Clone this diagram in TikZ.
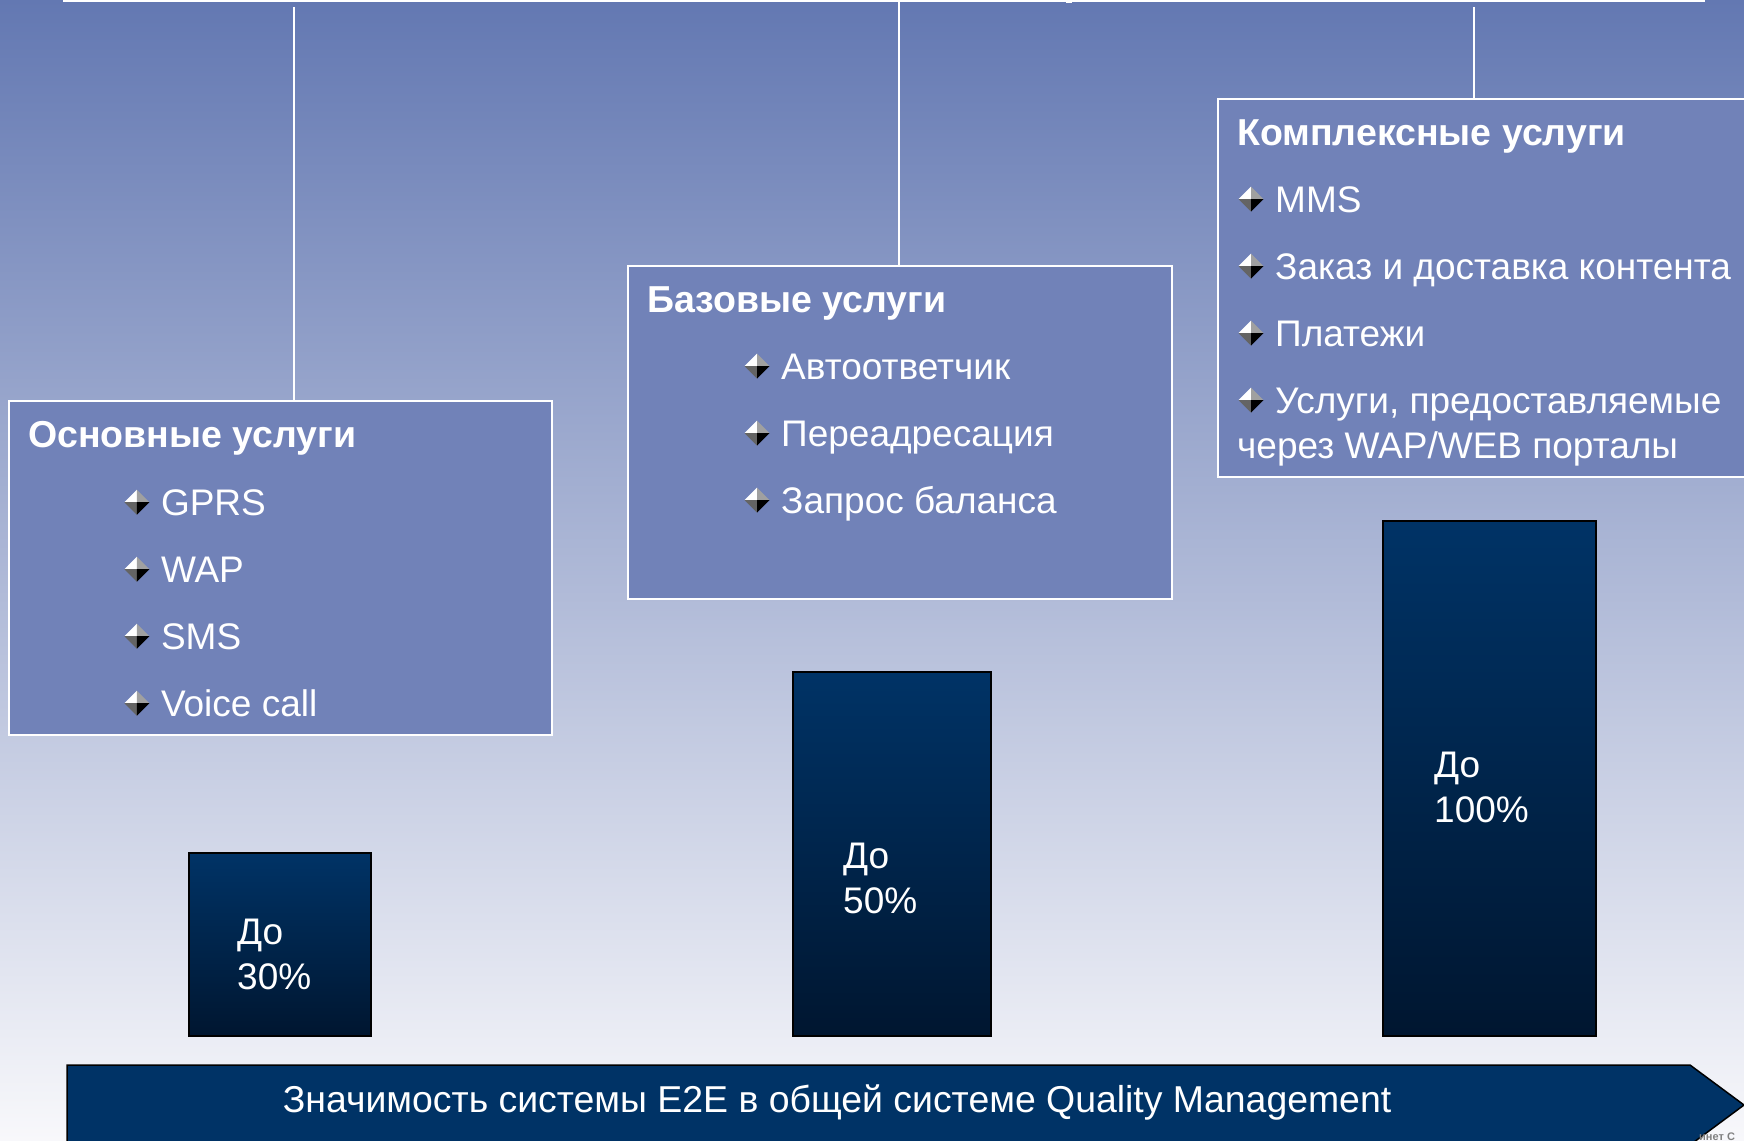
\documentclass[tikz,border=0pt]{standalone}
\usepackage{fontspec}
\setmainfont{Liberation Sans}
\usetikzlibrary{matrix, positioning, calc}
\definecolor{bgtop}{RGB}{99,120,178}
\definecolor{bgmid}{RGB}{180,187,213}
\definecolor{bgbot}{RGB}{248,248,251}
\definecolor{boxblue}{RGB}{113,130,184}
\definecolor{bartop}{RGB}{0,51,102}
\definecolor{barbot}{RGB}{0,22,48}
\definecolor{gemlight}{RGB}{160,160,160}
\definecolor{gemdark}{RGB}{100,100,100}
\tikzset{
  group/.style={
    draw=white, line width=2pt, fill=boxblue,
    inner sep=0pt, anchor=north west
  },
  head/.style={
    font=\bfseries\fontsize{37.5}{44}\selectfont, text=white,
    inner sep=0pt, text height=27pt, text depth=0pt, anchor=west
  },
  entry/.style={
    font=\fontsize{37}{45}\selectfont, text=white,
    inner sep=0pt, text height=26pt, text depth=0pt
  },
  list/.style={
    matrix of nodes,
    row sep=41pt,
    inner sep=0pt,
    nodes={entry, anchor=west},
    anchor=north west,
  },
  wire/.style={draw=white, line width=1.5pt},
  rail/.style={draw=white, line width=2.5pt},
  bar/.style={
    draw=black, line width=2pt, top color=bartop, bottom color=barbot,
    inner sep=0pt, anchor=south west
  },
  pct/.style={
    font=\fontsize{37}{45}\selectfont, text=white,
    align=left, inner sep=0pt, anchor=north west
  },
  gem/.pic={
    \fill[white] (0,0) -- (-12.5,0) -- (0,-12.5) -- cycle;
    \fill[gemlight] (0,0) -- (0,-12.5) -- (12.5,0) -- cycle;
    \fill[gemdark] (0,0) -- (-12.5,0) -- (0,12.5) -- cycle;
    \fill[black] (0,0) -- (12.5,0) -- (0,12.5) -- cycle;
  }
}

\begin{document}
\begin{tikzpicture}[x=1pt, y=-1pt]
  \useasboundingbox (0,0) rectangle (1744,1140);
  \shade[top color=bgtop, middle color=bgmid, bottom color=bgbot] (0,0) rectangle (1744,1140);

  % top rail and drops
  \coordinate (rail-w) at (63,1.2);
  \coordinate (rail-e) at (1705,1.2);
  \coordinate (tap1) at (294,7);
  \coordinate (tap2) at (899,0);
  \coordinate (tap3) at (1474,7);
  \draw[rail] (rail-w) -- (rail-e);
  \fill[white] (1066,0) rectangle (1072,3.5);

  \node[group, minimum width=543pt, minimum height=334pt] (main) at (7.8,400) {};
  \node[group, minimum width=544pt, minimum height=333pt] (base) at (627,265) {};
  \node[group, minimum width=543pt, minimum height=378pt] (complex) at (1217,98) {};
  \draw[wire] (tap1) -- (tap1 |- main.north);
  \draw[wire] (tap2) -- (tap2 |- base.north);
  \draw[wire] (tap3) -- (tap3 |- complex.north);

  \node[head] (main-head) at ([shift={(20,34)}]main.north west) {Основные услуги};
  \node[head] (base-head) at ([shift={(20,34)}]base.north west) {Базовые услуги};
  \node[head] (complex-head) at ([shift={(20,34)}]complex.north west) {Комплексные услуги};

  \matrix (mainlist) [list] at ([shift={(153,89)}]main.north west) {
    GPRS \\ WAP \\ SMS \\ Voice call \\
  };
  \matrix (baselist) [list] at ([shift={(154,88)}]base.north west) {
    Автоответчик \\ Переадресация \\ Запрос баланса \\
  };
  \matrix (complexlist) [list] at ([shift={(58,88)}]complex.north west) {
    MMS \\ Заказ и доставка контента \\ Платежи \\ Услуги, предоставляемые \\
  };
  \node[entry, anchor=west] (portal) at ([shift={(20,347)}]complex.north west) {через WAP/WEB порталы};

  \foreach \r in {1,...,4} \pic at ([xshift=-24pt]mainlist-\r-1.west) {gem};
  \foreach \r in {1,...,3} \pic at ([xshift=-24pt]baselist-\r-1.west) {gem};
  \foreach \r in {1,...,4} \pic at ([xshift=-24pt]complexlist-\r-1.west) {gem};

  % bars
  \node[bar, minimum width=182pt, minimum height=183pt] (bar1) at (188,1037) {};
  \node[bar, minimum width=198pt, minimum height=364pt] (bar2) at (792,1037) {};
  \node[bar, minimum width=213pt, minimum height=515pt] (bar3) at (1382,1037) {};
  \node[pct] (pct1) at ([shift={(49,67)}]bar1.north west) {До\\30\%};
  \node[pct] (pct2) at ([shift={(51,172)}]bar2.north west) {До\\50\%};
  \node[pct] (pct3) at ([shift={(52,232)}]bar3.north west) {До\\100\%};

  % scale arrow
  \filldraw[fill=bartop, draw=black, line width=1.5pt]
    (67,1065) -- (1690,1065) -- (1744,1105) -- (1690,1145) -- (67,1145) -- cycle;
  \node[entry, font=\fontsize{37.4}{45}\selectfont] (scale) at (837,1099) {Значимость системы E2E в общей системе Quality Management};
  \node[font=\bfseries\fontsize{11}{12}\selectfont, text=gray, inner sep=0pt, anchor=west] (credit) at (1699,1137) {инет С};
\end{tikzpicture}
\end{document}
